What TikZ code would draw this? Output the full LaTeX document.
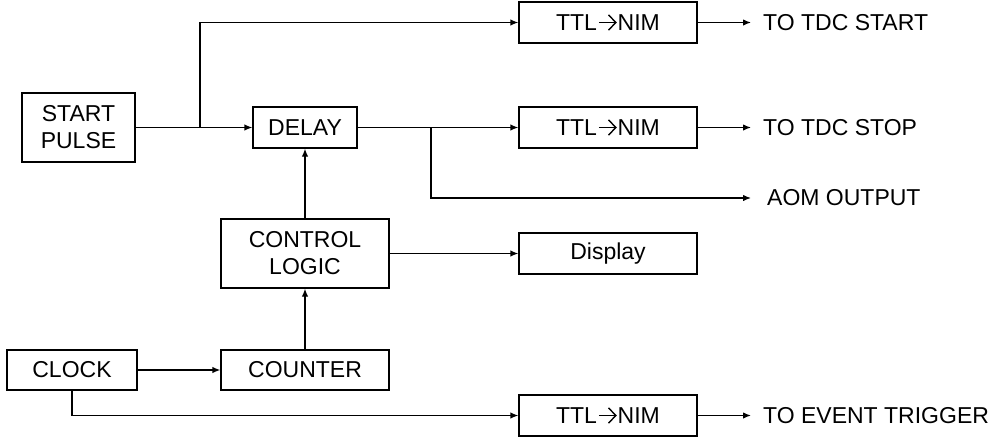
\documentclass[tikz,border=0pt]{standalone}
\usepackage{fontspec}
\setmainfont{Liberation Sans}
\usetikzlibrary{arrows.meta}
\newcommand{\ttlarrow}{\hspace{0.05em}\tikz[baseline=0pt,x=1em,y=1em]{%
  \draw[line width=1.4pt,line cap=butt] (0,0.36)--(0.72,0.36);
  \draw[line width=1.4pt,line join=miter] (0.42,0.03)--(0.74,0.36)--(0.42,0.69);}\hspace{0.05em}}
\begin{document}
\begin{tikzpicture}[x=1pt,y=-1pt,
  every node/.style={font=\fontsize{23}{27}\selectfont},
  blk/.style={draw,line width=1.3pt,inner sep=0pt,align=center,minimum width=#1},
  lbl/.style={anchor=west,inner xsep=0pt,inner ysep=0pt},
  conn/.style={line width=1.3pt},
  arr/.style={conn,-{Latex[length=8pt,width=6.5pt]}}]
\useasboundingbox (0,0) rectangle (992,442);
\node[blk=113pt,minimum height=69pt] (start) at (78.5,127.5) {START\\PULSE};
\node[blk=104pt,minimum height=41pt] (delay) at (305,127.5) {DELAY};
\node[blk=178pt,minimum height=41pt] (ttla) at (608,22.5) {TTL\ttlarrow NIM};
\node[blk=178pt,minimum height=41pt] (ttlb) at (608,127.5) {TTL\ttlarrow NIM};
\node[blk=168pt,minimum height=69pt] (ctrl) at (305,253.5) {CONTROL\\LOGIC};
\node[blk=178pt,minimum height=41pt] (disp) at (608,253.5) {Display};
\node[blk=130pt,minimum height=40pt] (clock) at (72,370) {CLOCK};
\node[blk=168pt,minimum height=40pt] (counter) at (305,370) {COUNTER};
\node[blk=178pt,minimum height=41pt] (ttlc) at (608,415.5) {TTL\ttlarrow NIM};
\node[lbl] (ltdcstart) at (763,22.5) {TO TDC START};
\node[lbl] (ltdcstop) at (763,127.5) {TO TDC STOP};
\node[lbl] (laom) at (767,198) {AOM OUTPUT};
\node[lbl] (levent) at (763,415.5) {TO EVENT TRIGGER};
\coordinate (ea) at (751,22.5);
\coordinate (eb) at (751,127.5);
\coordinate (ec) at (751,198);
\coordinate (ed) at (751,415.5);
\coordinate (bs) at (200,127.5);
\coordinate (bd) at (431,127.5);
% connectors
\draw[conn] (start.east) -- (bs);
\draw[arr] (bs) -- (delay.west);
\draw[arr] (bs) |- (ttla.west);
\draw[arr] (delay.east) -- (ttlb.west);
\draw[arr] (bd) |- (ec);
\draw[arr] (ttla.east) -- (ea);
\draw[arr] (ttlb.east) -- (eb);
\draw[arr] (ctrl.north) -- (delay.south);
\draw[arr] (ctrl.east) -- (ctrl.east -| disp.west);
\draw[arr] (counter.north) -- (ctrl.south);
\draw[arr] (clock.east) -- (counter.west);
\draw[arr] (clock.south) |- (ttlc.west);
\draw[arr] (ttlc.east) -- (ed);
\end{tikzpicture}
\end{document}
